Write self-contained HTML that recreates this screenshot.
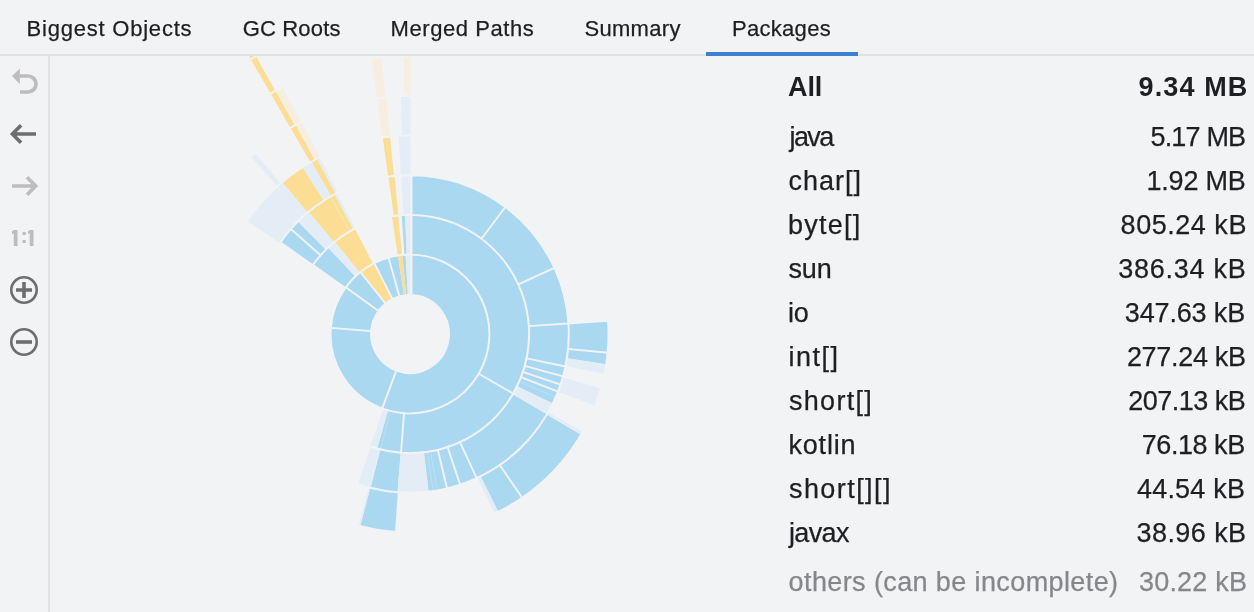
<!DOCTYPE html>
<html><head><meta charset="utf-8"><title>Packages</title>
<style>
html,body{margin:0;padding:0;}
body{width:1254px;height:612px;background:#f2f3f5;overflow:hidden;position:relative;font-family:"Liberation Sans",sans-serif;color:#1e1f22;}
.t{position:absolute;white-space:nowrap;line-height:1;-webkit-text-stroke:0.25px currentColor;}
.hl{position:absolute;left:0;top:54px;width:1254px;height:2px;background:#e0e1e4;}
.sel{position:absolute;left:706px;top:52px;width:152px;height:4px;background:#3f7fd0;}
.vl{position:absolute;left:48px;top:56px;width:2px;height:556px;background:#e0e1e4;}
.b{font-weight:bold;-webkit-text-stroke:0;}
.g{color:#86878a;}
</style></head><body>
<svg width="1204" height="556" viewBox="50 56 1204 556" style="position:absolute;left:50px;top:56px"><path fill="#aad8f1" d="M411.50 295.03L411.50 254.61A79.40 79.40 0 1 1 382.19 408.37L396.34 370.53A39.00 39.00 0 1 0 411.50 295.03ZM396.34 370.53L382.19 408.37A79.40 79.40 0 0 1 330.83 327.91L371.11 331.01A39.00 39.00 0 0 0 396.34 370.53ZM371.11 331.01L330.83 327.91A79.40 79.40 0 0 1 345.76 287.33L378.45 311.08A39.00 39.00 0 0 0 371.11 331.01ZM378.45 311.08L345.76 287.33A79.40 79.40 0 0 1 360.36 272.03L385.62 303.56A39.00 39.00 0 0 0 378.45 311.08ZM392.48 299.16L374.32 263.07A79.40 79.40 0 0 1 388.51 257.56L399.45 296.46A39.00 39.00 0 0 0 392.48 299.16ZM399.45 296.46L388.51 257.56A79.40 79.40 0 0 1 397.85 255.53L404.03 295.46A39.00 39.00 0 0 0 399.45 296.46ZM411.50 254.61L411.50 214.91A119.10 119.10 0 0 1 513.14 393.55L478.76 373.70A79.40 79.40 0 0 0 411.50 254.61ZM478.76 373.70L513.14 393.55A119.10 119.10 0 0 1 401.07 452.76L404.05 413.18A79.40 79.40 0 0 0 478.76 373.70ZM404.05 413.18L401.07 452.76A119.10 119.10 0 0 1 377.17 448.49L388.11 410.32A79.40 79.40 0 0 0 404.05 413.18ZM345.28 288.01L312.92 265.01A119.10 119.10 0 0 1 328.02 247.61L355.34 276.41A79.40 79.40 0 0 0 345.28 288.01ZM411.50 214.91L411.50 175.21A158.80 158.80 0 0 1 505.35 207.01L481.51 238.76A119.10 119.10 0 0 0 411.50 214.91ZM481.51 238.76L505.35 207.01A158.80 158.80 0 0 1 554.39 267.89L518.29 284.42A119.10 119.10 0 0 0 481.51 238.76ZM518.29 284.42L554.39 267.89A158.80 158.80 0 0 1 568.45 323.48L528.84 326.11A119.10 119.10 0 0 0 518.29 284.42ZM528.84 326.11L568.45 323.48A158.80 158.80 0 0 1 565.44 366.47L526.58 358.36A119.10 119.10 0 0 0 528.84 326.11ZM526.58 358.36L565.44 366.47A158.80 158.80 0 0 1 563.02 376.44L524.77 365.83A119.10 119.10 0 0 0 526.58 358.36ZM524.77 365.83L563.02 376.44A158.80 158.80 0 0 1 560.51 384.65L522.88 371.99A119.10 119.10 0 0 0 524.77 365.83ZM522.88 371.99L560.51 384.65A158.80 158.80 0 0 1 557.95 391.68L520.96 377.26A119.10 119.10 0 0 0 522.88 371.99ZM520.96 377.26L557.95 391.68A158.80 158.80 0 0 1 552.73 403.61L517.05 386.21A119.10 119.10 0 0 0 520.96 377.26ZM512.73 394.27L546.97 414.36A158.80 158.80 0 0 1 476.61 478.16L459.96 442.12A119.10 119.10 0 0 0 512.73 394.27ZM459.96 442.12L476.61 478.16A158.80 158.80 0 0 1 460.13 484.68L447.59 447.01A119.10 119.10 0 0 0 459.96 442.12ZM447.59 447.01L460.13 484.68A158.80 158.80 0 0 1 447.07 488.41L437.80 449.81A119.10 119.10 0 0 0 447.59 447.01ZM437.80 449.81L447.07 488.41A158.80 158.80 0 0 1 428.53 491.72L423.90 452.29A119.10 119.10 0 0 0 437.80 449.81ZM400.66 452.73L397.54 492.31A158.80 158.80 0 0 1 370.51 487.81L380.38 449.36A119.10 119.10 0 0 0 400.66 452.73ZM312.74 265.26L280.32 242.35A158.80 158.80 0 0 1 290.88 228.98L320.66 255.24A119.10 119.10 0 0 0 312.74 265.26ZM320.66 255.24L290.88 228.98A158.80 158.80 0 0 1 297.91 221.52L325.93 249.64A119.10 119.10 0 0 0 320.66 255.24ZM568.45 323.48L608.06 320.84A198.50 198.50 0 0 1 607.62 352.68L568.10 348.94A158.80 158.80 0 0 0 568.45 323.48ZM568.10 348.94L607.62 352.68A198.50 198.50 0 0 1 606.16 364.37L566.93 358.29A158.80 158.80 0 0 0 568.10 348.94ZM546.83 414.60L581.03 434.75A198.50 198.50 0 0 1 522.15 497.79L499.72 465.03A158.80 158.80 0 0 0 546.83 414.60ZM499.72 465.03L522.15 497.79A198.50 198.50 0 0 1 498.26 511.80L480.61 476.24A158.80 158.80 0 0 0 499.72 465.03ZM398.78 492.40L395.98 532.00A198.50 198.50 0 0 1 360.30 526.18L370.24 487.74A158.80 158.80 0 0 0 398.78 492.40ZM406.19 295.19L402.25 254.98A79.40 79.40 0 0 1 405.57 254.72L407.82 295.06A39.00 39.00 0 0 0 406.19 295.19ZM404.46 254.79L401.69 215.19A119.10 119.10 0 0 1 405.01 215.00L406.68 254.67A79.40 79.40 0 0 0 404.46 254.79Z"/><path fill="#fbdd94" d="M385.62 303.56L360.36 272.03A79.40 79.40 0 0 1 374.32 263.07L392.48 299.16A39.00 39.00 0 0 0 385.62 303.56ZM359.82 272.47L334.73 241.70A119.10 119.10 0 0 1 354.64 228.55L373.09 263.70A79.40 79.40 0 0 0 359.82 272.47ZM333.92 242.36L308.56 211.82A158.80 158.80 0 0 1 330.12 196.75L350.09 231.06A119.10 119.10 0 0 0 333.92 242.36ZM350.09 231.06L330.12 196.75A158.80 158.80 0 0 1 334.47 194.31L353.35 229.23A119.10 119.10 0 0 0 350.09 231.06ZM307.71 212.53L282.14 182.16A198.50 198.50 0 0 1 302.47 167.15L323.98 200.52A158.80 158.80 0 0 0 307.71 212.53ZM331.08 196.20L311.35 161.75A198.50 198.50 0 0 1 316.81 158.73L335.45 193.79A158.80 158.80 0 0 0 331.08 196.20ZM310.45 162.27L290.54 127.92A238.20 238.20 0 0 1 295.79 124.96L314.83 159.80A198.50 198.50 0 0 0 310.45 162.27ZM290.54 127.92L270.63 93.57A277.90 277.90 0 0 1 275.70 90.71L294.88 125.46A238.20 238.20 0 0 0 290.54 127.92ZM270.63 93.57L250.72 59.23A317.60 317.60 0 0 1 256.02 56.22L275.27 90.94A277.90 277.90 0 0 0 270.63 93.57ZM250.72 59.23L230.81 24.88A357.30 357.30 0 0 1 236.78 21.50L256.02 56.22A317.60 317.60 0 0 0 250.72 59.23ZM404.03 295.46L397.85 255.53A79.40 79.40 0 0 1 402.25 254.98L406.19 295.19A39.00 39.00 0 0 0 404.03 295.46ZM397.85 255.53L391.78 216.30A119.10 119.10 0 0 1 398.17 215.49L402.11 254.99A79.40 79.40 0 0 0 397.85 255.53ZM393.84 216.00L388.45 176.67A158.80 158.80 0 0 1 394.50 175.96L398.38 215.47A119.10 119.10 0 0 0 393.84 216.00ZM388.17 176.71L382.72 137.38A198.50 198.50 0 0 1 389.94 136.52L393.95 176.01A158.80 158.80 0 0 0 388.17 176.71Z"/><path fill="#e4edf5" d="M388.11 410.32L377.17 448.49A119.10 119.10 0 0 1 370.05 446.20L383.37 408.80A79.40 79.40 0 0 0 388.11 410.32ZM355.34 276.41L328.02 247.61A119.10 119.10 0 0 1 334.73 241.70L359.82 272.47A79.40 79.40 0 0 0 355.34 276.41ZM517.05 386.21L552.73 403.61A158.80 158.80 0 0 1 546.97 414.36L512.73 394.27A119.10 119.10 0 0 0 517.05 386.21ZM423.90 452.29L428.53 491.72A158.80 158.80 0 0 1 397.54 492.31L400.66 452.73A119.10 119.10 0 0 0 423.90 452.29ZM380.38 449.36L370.51 487.81A158.80 158.80 0 0 1 357.78 483.97L370.83 446.48A119.10 119.10 0 0 0 380.38 449.36ZM325.93 249.64L297.91 221.52A158.80 158.80 0 0 1 308.56 211.82L333.92 242.36A119.10 119.10 0 0 0 325.93 249.64ZM353.35 229.23L334.47 194.31A158.80 158.80 0 0 1 336.92 193.01L355.19 228.26A119.10 119.10 0 0 0 353.35 229.23ZM566.93 358.29L606.16 364.37A198.50 198.50 0 0 1 604.45 373.91L565.56 365.93A158.80 158.80 0 0 0 566.93 358.29ZM562.72 377.50L600.91 388.38A198.50 198.50 0 0 1 595.07 405.78L558.05 391.43A158.80 158.80 0 0 0 562.72 377.50ZM548.21 412.20L582.77 431.75A198.50 198.50 0 0 1 581.03 434.75L546.83 414.60A158.80 158.80 0 0 0 548.21 412.20ZM480.61 476.24L498.26 511.80A198.50 198.50 0 0 1 494.52 513.61L477.61 477.69A158.80 158.80 0 0 0 480.61 476.24ZM370.24 487.74L360.30 526.18A198.50 198.50 0 0 1 358.62 525.74L368.90 487.39A158.80 158.80 0 0 0 370.24 487.74ZM279.60 243.37L247.00 220.71A198.50 198.50 0 0 1 282.14 182.16L307.71 212.53A158.80 158.80 0 0 0 279.60 243.37ZM323.98 200.52L302.47 167.15A198.50 198.50 0 0 1 311.35 161.75L331.08 196.20A158.80 158.80 0 0 0 323.98 200.52ZM335.45 193.79L316.81 158.73A198.50 198.50 0 0 1 319.57 157.29L337.66 192.63A158.80 158.80 0 0 0 335.45 193.79ZM277.44 186.25L250.92 156.70A238.20 238.20 0 0 1 254.99 153.14L280.82 183.28A198.50 198.50 0 0 0 277.44 186.25ZM407.82 295.06L405.57 254.72A79.40 79.40 0 0 1 410.50 254.60L410.50 295.00A39.00 39.00 0 0 0 407.82 295.06ZM406.68 254.67L405.01 215.00A119.10 119.10 0 0 1 410.50 214.90L410.50 254.60A79.40 79.40 0 0 0 406.68 254.67ZM403.56 215.07L401.41 175.43A158.80 158.80 0 0 1 410.50 175.20L410.50 214.90A119.10 119.10 0 0 0 403.56 215.07ZM400.86 175.46L398.57 135.83A198.50 198.50 0 0 1 410.50 135.50L410.50 175.20A158.80 158.80 0 0 0 400.86 175.46ZM402.38 135.65L400.86 95.98A238.20 238.20 0 0 1 410.50 95.80L410.50 135.50A198.50 198.50 0 0 0 402.38 135.65Z"/><path fill="#f6eee0" d="M314.83 159.80L295.79 124.96A238.20 238.20 0 0 1 301.86 121.76L319.88 157.14A198.50 198.50 0 0 0 314.83 159.80ZM294.88 125.46L275.70 90.71A277.90 277.90 0 0 1 282.54 87.05L300.75 122.33A238.20 238.20 0 0 0 294.88 125.46ZM382.37 137.43L376.85 98.12A238.20 238.20 0 0 1 386.34 96.98L390.29 136.48A198.50 198.50 0 0 0 382.37 137.43ZM376.85 98.12L371.32 58.80A277.90 277.90 0 0 1 381.43 57.57L385.51 97.06A238.20 238.20 0 0 0 376.85 98.12ZM404.60 95.86L403.70 56.17A277.90 277.90 0 0 1 410.50 56.10L410.50 95.80A238.20 238.20 0 0 0 404.60 95.86Z"/><path fill="none" stroke="#f2f3f5" stroke-width="1.9" stroke-linecap="square" d="M411.50 295.03A39.00 39.00 0 1 1 396.34 370.53M411.50 254.61A79.40 79.40 0 1 1 382.19 408.37M411.50 295.03L411.50 254.61M396.34 370.53L382.19 408.37M396.34 370.53A39.00 39.00 0 0 1 371.11 331.01M382.19 408.37A79.40 79.40 0 0 1 330.83 327.91M396.34 370.53L382.19 408.37M371.11 331.01L330.83 327.91M371.11 331.01A39.00 39.00 0 0 1 378.45 311.08M330.83 327.91A79.40 79.40 0 0 1 345.76 287.33M371.11 331.01L330.83 327.91M378.45 311.08L345.76 287.33M378.45 311.08A39.00 39.00 0 0 1 385.62 303.56M345.76 287.33A79.40 79.40 0 0 1 360.36 272.03M378.45 311.08L345.76 287.33M385.62 303.56L360.36 272.03M385.62 303.56A39.00 39.00 0 0 1 392.48 299.16M360.36 272.03A79.40 79.40 0 0 1 374.32 263.07M392.48 299.16A39.00 39.00 0 0 1 399.45 296.46M374.32 263.07A79.40 79.40 0 0 1 388.51 257.56M392.48 299.16L374.32 263.07M399.45 296.46L388.51 257.56M399.45 296.46A39.00 39.00 0 0 1 404.03 295.46M388.51 257.56A79.40 79.40 0 0 1 397.85 255.53M399.45 296.46L388.51 257.56M411.50 254.61A79.40 79.40 0 0 1 478.76 373.70M411.50 214.91A119.10 119.10 0 0 1 513.14 393.55M411.50 254.61L411.50 214.91M478.76 373.70L513.14 393.55M478.76 373.70A79.40 79.40 0 0 1 404.05 413.18M513.14 393.55A119.10 119.10 0 0 1 401.07 452.76M478.76 373.70L513.14 393.55M404.05 413.18L401.07 452.76M404.05 413.18A79.40 79.40 0 0 1 388.11 410.32M401.07 452.76A119.10 119.10 0 0 1 377.17 448.49M404.05 413.18L401.07 452.76M388.11 410.32A79.40 79.40 0 0 1 383.37 408.80M377.17 448.49A119.10 119.10 0 0 1 370.05 446.20M345.28 288.01A79.40 79.40 0 0 1 355.34 276.41M312.92 265.01A119.10 119.10 0 0 1 328.02 247.61M345.28 288.01L312.92 265.01M355.34 276.41A79.40 79.40 0 0 1 359.82 272.47M328.02 247.61A119.10 119.10 0 0 1 334.73 241.70M359.82 272.47A79.40 79.40 0 0 1 373.09 263.70M334.73 241.70A119.10 119.10 0 0 1 354.64 228.55M411.50 214.91A119.10 119.10 0 0 1 481.51 238.76M411.50 175.21A158.80 158.80 0 0 1 505.35 207.01M411.50 214.91L411.50 175.21M481.51 238.76L505.35 207.01M481.51 238.76A119.10 119.10 0 0 1 518.29 284.42M505.35 207.01A158.80 158.80 0 0 1 554.39 267.89M481.51 238.76L505.35 207.01M518.29 284.42L554.39 267.89M518.29 284.42A119.10 119.10 0 0 1 528.84 326.11M554.39 267.89A158.80 158.80 0 0 1 568.45 323.48M518.29 284.42L554.39 267.89M528.84 326.11L568.45 323.48M528.84 326.11A119.10 119.10 0 0 1 526.58 358.36M568.45 323.48A158.80 158.80 0 0 1 565.44 366.47M528.84 326.11L568.45 323.48M526.58 358.36L565.44 366.47M526.58 358.36A119.10 119.10 0 0 1 524.77 365.83M565.44 366.47A158.80 158.80 0 0 1 563.02 376.44M526.58 358.36L565.44 366.47M524.77 365.83L563.02 376.44M524.77 365.83A119.10 119.10 0 0 1 522.88 371.99M563.02 376.44A158.80 158.80 0 0 1 560.51 384.65M524.77 365.83L563.02 376.44M522.88 371.99L560.51 384.65M522.88 371.99A119.10 119.10 0 0 1 520.96 377.26M560.51 384.65A158.80 158.80 0 0 1 557.95 391.68M522.88 371.99L560.51 384.65M520.96 377.26L557.95 391.68M520.96 377.26A119.10 119.10 0 0 1 517.05 386.21M557.95 391.68A158.80 158.80 0 0 1 552.73 403.61M520.96 377.26L557.95 391.68M517.05 386.21A119.10 119.10 0 0 1 512.73 394.27M552.73 403.61A158.80 158.80 0 0 1 546.97 414.36M512.73 394.27A119.10 119.10 0 0 1 459.96 442.12M546.97 414.36A158.80 158.80 0 0 1 476.61 478.16M459.96 442.12L476.61 478.16M459.96 442.12A119.10 119.10 0 0 1 447.59 447.01M476.61 478.16A158.80 158.80 0 0 1 460.13 484.68M459.96 442.12L476.61 478.16M447.59 447.01L460.13 484.68M447.59 447.01A119.10 119.10 0 0 1 437.80 449.81M460.13 484.68A158.80 158.80 0 0 1 447.07 488.41M447.59 447.01L460.13 484.68M437.80 449.81L447.07 488.41M437.80 449.81A119.10 119.10 0 0 1 423.90 452.29M447.07 488.41A158.80 158.80 0 0 1 428.53 491.72M437.80 449.81L447.07 488.41M423.90 452.29A119.10 119.10 0 0 1 400.66 452.73M428.53 491.72A158.80 158.80 0 0 1 397.54 492.31M400.66 452.73A119.10 119.10 0 0 1 380.38 449.36M397.54 492.31A158.80 158.80 0 0 1 370.51 487.81M380.38 449.36A119.10 119.10 0 0 1 370.83 446.48M370.51 487.81A158.80 158.80 0 0 1 357.78 483.97M312.74 265.26A119.10 119.10 0 0 1 320.66 255.24M280.32 242.35A158.80 158.80 0 0 1 290.88 228.98M312.74 265.26L280.32 242.35M320.66 255.24L290.88 228.98M320.66 255.24A119.10 119.10 0 0 1 325.93 249.64M290.88 228.98A158.80 158.80 0 0 1 297.91 221.52M320.66 255.24L290.88 228.98M325.93 249.64A119.10 119.10 0 0 1 333.92 242.36M297.91 221.52A158.80 158.80 0 0 1 308.56 211.82M333.92 242.36A119.10 119.10 0 0 1 350.09 231.06M308.56 211.82A158.80 158.80 0 0 1 330.12 196.75M350.09 231.06A119.10 119.10 0 0 1 353.35 229.23M330.12 196.75A158.80 158.80 0 0 1 334.47 194.31M353.35 229.23A119.10 119.10 0 0 1 355.19 228.26M334.47 194.31A158.80 158.80 0 0 1 336.92 193.01M568.45 323.48A158.80 158.80 0 0 1 568.10 348.94M608.06 320.84A198.50 198.50 0 0 1 607.62 352.68M568.45 323.48L608.06 320.84M568.10 348.94L607.62 352.68M568.10 348.94A158.80 158.80 0 0 1 566.93 358.29M607.62 352.68A198.50 198.50 0 0 1 606.16 364.37M568.10 348.94L607.62 352.68M566.93 358.29A158.80 158.80 0 0 1 565.56 365.93M606.16 364.37A198.50 198.50 0 0 1 604.45 373.91M562.72 377.50A158.80 158.80 0 0 1 558.05 391.43M600.91 388.38A198.50 198.50 0 0 1 595.07 405.78M548.21 412.20A158.80 158.80 0 0 1 546.83 414.60M582.77 431.75A198.50 198.50 0 0 1 581.03 434.75M546.83 414.60A158.80 158.80 0 0 1 499.72 465.03M581.03 434.75A198.50 198.50 0 0 1 522.15 497.79M499.72 465.03L522.15 497.79M499.72 465.03A158.80 158.80 0 0 1 480.61 476.24M522.15 497.79A198.50 198.50 0 0 1 498.26 511.80M499.72 465.03L522.15 497.79M480.61 476.24A158.80 158.80 0 0 1 477.61 477.69M498.26 511.80A198.50 198.50 0 0 1 494.52 513.61M398.78 492.40A158.80 158.80 0 0 1 370.24 487.74M395.98 532.00A198.50 198.50 0 0 1 360.30 526.18M398.78 492.40L395.98 532.00M370.24 487.74A158.80 158.80 0 0 1 368.90 487.39M360.30 526.18A198.50 198.50 0 0 1 358.62 525.74M279.60 243.37A158.80 158.80 0 0 1 307.71 212.53M247.00 220.71A198.50 198.50 0 0 1 282.14 182.16M307.71 212.53A158.80 158.80 0 0 1 323.98 200.52M282.14 182.16A198.50 198.50 0 0 1 302.47 167.15M323.98 200.52A158.80 158.80 0 0 1 331.08 196.20M302.47 167.15A198.50 198.50 0 0 1 311.35 161.75M331.08 196.20A158.80 158.80 0 0 1 335.45 193.79M311.35 161.75A198.50 198.50 0 0 1 316.81 158.73M335.45 193.79A158.80 158.80 0 0 1 337.66 192.63M316.81 158.73A198.50 198.50 0 0 1 319.57 157.29M277.44 186.25A198.50 198.50 0 0 1 280.82 183.28M250.92 156.70A238.20 238.20 0 0 1 254.99 153.14M310.45 162.27A198.50 198.50 0 0 1 314.83 159.80M290.54 127.92A238.20 238.20 0 0 1 295.79 124.96M314.83 159.80A198.50 198.50 0 0 1 319.88 157.14M295.79 124.96A238.20 238.20 0 0 1 301.86 121.76M290.54 127.92A238.20 238.20 0 0 1 294.88 125.46M270.63 93.57A277.90 277.90 0 0 1 275.70 90.71M294.88 125.46A238.20 238.20 0 0 1 300.75 122.33M275.70 90.71A277.90 277.90 0 0 1 282.54 87.05M270.63 93.57A277.90 277.90 0 0 1 275.27 90.94M250.72 59.23A317.60 317.60 0 0 1 256.02 56.22M250.72 59.23A317.60 317.60 0 0 1 256.02 56.22M230.81 24.88A357.30 357.30 0 0 1 236.78 21.50M404.03 295.46A39.00 39.00 0 0 1 406.19 295.19M397.85 255.53A79.40 79.40 0 0 1 402.25 254.98M406.19 295.19A39.00 39.00 0 0 1 407.82 295.06M402.25 254.98A79.40 79.40 0 0 1 405.57 254.72M397.85 255.53A79.40 79.40 0 0 1 402.11 254.99M391.78 216.30A119.10 119.10 0 0 1 398.17 215.49M404.46 254.79A79.40 79.40 0 0 1 406.68 254.67M401.69 215.19A119.10 119.10 0 0 1 405.01 215.00M393.84 216.00A119.10 119.10 0 0 1 398.38 215.47M388.45 176.67A158.80 158.80 0 0 1 394.50 175.96M388.17 176.71A158.80 158.80 0 0 1 393.95 176.01M382.72 137.38A198.50 198.50 0 0 1 389.94 136.52M382.37 137.43A198.50 198.50 0 0 1 390.29 136.48M376.85 98.12A238.20 238.20 0 0 1 386.34 96.98M376.85 98.12A238.20 238.20 0 0 1 385.51 97.06M371.32 58.80A277.90 277.90 0 0 1 381.43 57.57M407.82 295.06A39.00 39.00 0 0 1 410.50 295.00M405.57 254.72A79.40 79.40 0 0 1 410.50 254.60M406.68 254.67A79.40 79.40 0 0 1 410.50 254.60M405.01 215.00A119.10 119.10 0 0 1 410.50 214.90M403.56 215.07A119.10 119.10 0 0 1 410.50 214.90M401.41 175.43A158.80 158.80 0 0 1 410.50 175.20M400.86 175.46A158.80 158.80 0 0 1 410.50 175.20M398.57 135.83A198.50 198.50 0 0 1 410.50 135.50M402.38 135.65A198.50 198.50 0 0 1 410.50 135.50M400.86 95.98A238.20 238.20 0 0 1 410.50 95.80M404.60 95.86A238.20 238.20 0 0 1 410.50 95.80M403.70 56.17A277.90 277.90 0 0 1 410.50 56.10"/><path fill="none" stroke="#f2f3f5" stroke-width="0.7" stroke-opacity="0.7" d="M350.09 231.06L330.12 196.75"/><path fill="none" stroke="#f2f3f5" stroke-width="0.6" stroke-opacity="0.45" d="M390.14 411.91L380.83 448.44M520.14 381.89L554.71 396.92M430.65 452.31L437.13 489.45M427.54 452.81L433.05 490.11"/></svg>
<div class="hl"></div><div class="sel"></div><div class="vl"></div>
<svg width="48" height="556" viewBox="0 56 48 556" style="position:absolute;left:0;top:56px">
<g fill="none" stroke="#bdbdbf" stroke-width="3.7">
<path d="M20 92H28A8 8 0 0 0 28 76H19.5"/>
<path d="M12 186H36M27 177.2L35.6 186L27 194.8"/>
</g>
<path d="M12 76L19.8 68.5V83.9Z" fill="#bdbdbf"/>
<g fill="none" stroke="#6d6e70" stroke-width="3.6">
<path d="M13 134H36M21.1 125.2L12.4 134L21.1 142.8"/>
<path d="M16 290H32M24 282V298"/>
<path d="M16 342H32"/>
</g>
<g fill="none" stroke="#6d6e70" stroke-width="2.6">
<circle cx="24" cy="290" r="12.7"/>
<circle cx="24" cy="342" r="12.7"/>
</g>
</svg>
<div id="oneone" style="position:absolute;left:0;top:0;color:#bdbdbf;font-weight:bold;line-height:1"><span style="position:absolute;left:12px;top:228px;width:6.3px;height:18px;overflow:hidden;font-size:27px"><span style="position:absolute;left:-4.6px;top:-0.86px">1</span></span><span style="position:absolute;left:20.5px;top:225.38px;font-size:22px">:</span><span style="position:absolute;left:28px;top:228px;width:6.3px;height:18px;overflow:hidden;font-size:27px"><span style="position:absolute;left:-4.6px;top:-0.86px">1</span></span></div>

<span class="t " id="t1" style="left:26.50px;top:17.68px;font-size:22px;letter-spacing:0.786px">Biggest Objects</span>
<span class="t " id="t2" style="left:242.70px;top:17.68px;font-size:22px;letter-spacing:0.171px">GC Roots</span>
<span class="t " id="t3" style="left:390.50px;top:17.68px;font-size:22px;letter-spacing:0.582px">Merged Paths</span>
<span class="t " id="t4" style="left:584.40px;top:17.68px;font-size:22px;letter-spacing:0.333px">Summary</span>
<span class="t " id="t5" style="left:731.90px;top:17.68px;font-size:22px;letter-spacing:0.314px">Packages</span>
<span class="t b" id="l0" style="left:788.00px;top:74.44px;font-size:27px;letter-spacing:-0.100px">All</span>
<span class="t b" id="v0" style="left:1138.60px;top:74.44px;font-size:27px;letter-spacing:1.100px">9.34 MB</span>
<span class="t " id="l1" style="left:789.50px;top:124.14px;font-size:27px;letter-spacing:-1.600px">java</span>
<span class="t " id="v1" style="left:1150.50px;top:124.14px;font-size:27px;letter-spacing:-0.833px">5.17 MB</span>
<span class="t " id="l2" style="left:788.40px;top:168.14px;font-size:27px;letter-spacing:1.040px">char[]</span>
<span class="t " id="v2" style="left:1146.50px;top:168.14px;font-size:27px;letter-spacing:-0.200px">1.92 MB</span>
<span class="t " id="l3" style="left:788.10px;top:212.14px;font-size:27px;letter-spacing:1.240px">byte[]</span>
<span class="t " id="v3" style="left:1120.60px;top:212.14px;font-size:27px;letter-spacing:0.525px">805.24 kB</span>
<span class="t " id="l4" style="left:788.40px;top:256.14px;font-size:27px;letter-spacing:-0.100px">sun</span>
<span class="t " id="v4" style="left:1118.20px;top:256.14px;font-size:27px;letter-spacing:0.750px">386.34 kB</span>
<span class="t " id="l5" style="left:788.10px;top:300.14px;font-size:27px;letter-spacing:-0.400px">io</span>
<span class="t " id="v5" style="left:1124.80px;top:300.14px;font-size:27px;letter-spacing:-0.150px">347.63 kB</span>
<span class="t " id="l6" style="left:788.50px;top:344.14px;font-size:27px;letter-spacing:1.500px">int[]</span>
<span class="t " id="v6" style="left:1126.90px;top:344.14px;font-size:27px;letter-spacing:-0.300px">277.24 kB</span>
<span class="t " id="l7" style="left:789.00px;top:388.14px;font-size:27px;letter-spacing:1.300px">short[]</span>
<span class="t " id="v7" style="left:1128.20px;top:388.14px;font-size:27px;letter-spacing:-0.500px">207.13 kB</span>
<span class="t " id="l8" style="left:788.50px;top:432.14px;font-size:27px;letter-spacing:0.800px">kotlin</span>
<span class="t " id="v8" style="left:1141.80px;top:432.14px;font-size:27px;letter-spacing:-0.457px">76.18 kB</span>
<span class="t " id="l9" style="left:789.00px;top:476.14px;font-size:27px;letter-spacing:1.425px">short[][]</span>
<span class="t " id="v9" style="left:1136.90px;top:476.14px;font-size:27px;letter-spacing:0.229px">44.54 kB</span>
<span class="t " id="l10" style="left:789.00px;top:520.14px;font-size:27px;letter-spacing:-0.650px">javax</span>
<span class="t " id="v10" style="left:1136.50px;top:520.14px;font-size:27px;letter-spacing:0.429px">38.96 kB</span>
<span class="t g" id="l11" style="left:788.60px;top:569.44px;font-size:27px;letter-spacing:0.392px">others (can be incomplete)</span>
<span class="t g" id="v11" style="left:1138.90px;top:569.44px;font-size:27px;letter-spacing:0.229px">30.22 kB</span>
</body></html>
